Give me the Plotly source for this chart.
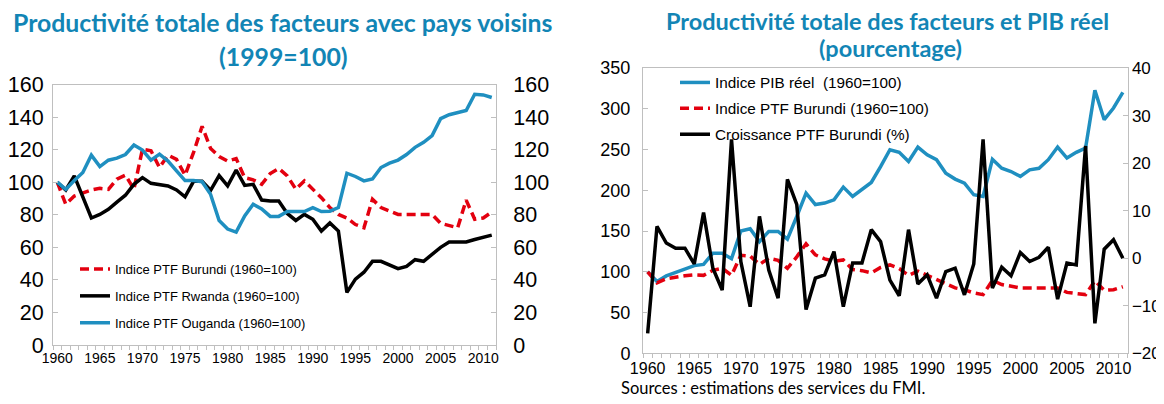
import plotly.graph_objs as go

W, H = 1164, 404
PAGE_MARGIN = 8  # default body margin of the html page

YEARS = list(range(1960, 2012))

# left chart : PTF indices (1960=100)
PTF_BURUNDI = [100, 86.4, 91.5, 93.6, 95.2, 96.2, 95.6, 101.8, 104.3, 95.7,
               120.3, 119.3, 109, 116.6, 114, 104.3, 118.3, 134.3, 120.7, 115.8,
               113, 114.5, 102.8, 101.4, 98.7, 105.3, 108.4, 103.9, 95.7, 100.8,
               95.7, 90.5, 84.4, 80.2, 78, 74, 72, 89.5, 84.4, 82.3,
               80.2, 80.2, 80.2, 80.2, 80.2, 74.7, 73.5, 72, 89, 77.2,
               78, 81.6]
PTF_RWANDA = [100, 95.2, 103.9, 91.5, 78, 80.2, 83.3, 87.8, 92, 98.7,
              102.8, 99.3, 98.3, 97.7, 95.2, 91, 100.5, 100.5, 95, 104,
              97.7, 107.5, 98, 98.7, 89, 88.4, 88.4, 80.8, 76.5, 80.2,
              77.2, 70, 75, 70, 32.3, 40.5, 44.7, 51.4, 51.4, 49.4,
              46.9, 48.3, 52.4, 51.4, 55.5, 60, 63.3, 63.3, 63.3, 64.8,
              66.2, 67.5]
PTF_OUGANDA = [100, 95.6, 101, 106, 116.6, 109.6, 113.5, 114.8, 117, 122.8,
               119.7, 113.5, 117.2, 113, 107, 101, 101, 100.3, 92.5, 76.5,
               71.2, 69.3, 79.3, 86.4, 83.6, 79, 79, 82, 82, 82,
               84.4, 82, 82.2, 84.4, 105.5, 103.5, 100.8, 102, 109, 111.7,
               113.6, 117, 121.4, 124.5, 128.6, 139, 141.4, 142.6, 144, 154,
               153.6, 152]

# right chart
PIB_REEL = [100, 88, 94.9, 99.4, 103, 107.6, 109, 122.8, 122.8, 116,
            150, 152.7, 137, 149.5, 149.5, 140, 167.8, 196.5, 182.5, 184.3,
            188.3, 203.9, 192.5, 200.6, 209.6, 229, 249.7, 246.5, 235.4, 253,
            243.6, 237.5, 221, 213.7, 208.8, 194.5, 192.5, 238, 227, 223,
            217, 225, 227, 237.5, 253, 239.5, 246.5, 251.8, 322.6, 286.6,
            300.9, 320]
CROISSANCE_PTF = [-15.8, 6.7, 3.2, 2.1, 2.1, -1.2, 9.6, -2.1, -6.7, 25,
                  -0.7, -10.2, 8.8, -2.5, -8.4, 16.6, 11.3, -10.8, -4.2, -3.5,
                  1.4, -10.2, -1, -1, 6, 3.5, -4.6, -7.9, 6, -5.4,
                  -3.5, -8.4, -2.8, -2.1, -7.7, -1.2, 25, -6.3, -1.9, -3.7,
                  1.2, -0.7, 0.2, 2.3, -8.6, -1, -1.4, 23.6, -13.7, 1.9,
                  3.9, 0]

LEFT_YTICKS = list(range(0, 161, 20))
RIGHT_Y1TICKS = list(range(0, 351, 50))
RIGHT_Y2TICKS = list(range(-20, 41, 10))
XTICKS = list(range(1960, 2011, 5))

BLUE = '#1f8fc0'
RED = '#e3000f'
BLACK = '#000000'
TITLE_BLUE = '#1285b5'
GRID = '#bfbfbf'
AX_FONT = 'Liberation Sans, Arial, sans-serif'
TITLE_FONT = 'Lato, Noto Sans, sans-serif'

# the page keeps its 8px body margin, so the figure is made to fit inside it
FIG_W = W - 2 * PAGE_MARGIN
FIG_H = H - 2 * PAGE_MARGIN


def px_x(p):
    # window pixel -> paper fraction
    return (p - PAGE_MARGIN) / FIG_W


def px_y(p):
    return 1 - (p - PAGE_MARGIN) / FIG_H


def x_axis(domain, size, anchor):
    return dict(domain=domain, range=[1959.5, 2011.5], tickvals=XTICKS,
                anchor=anchor, automargin=False,
                ticks='', showline=True, linecolor=GRID, linewidth=1,
                mirror=True, showgrid=False, zeroline=False,
                tickfont=dict(family=AX_FONT, size=size, color='black'),
                minor=dict(ticks='outside', tick0=1959.5, dtick=1,
                           ticklen=4, tickcolor=GRID, showgrid=False))


def y_axis(domain, rng, vals, size, anchor, side='left', overlay=None,
           standoff=4):
    d = dict(domain=domain, range=rng, tickvals=vals, side=side,
             anchor=anchor, automargin=False,
             ticks='inside', ticklen=5, tickcolor=GRID, showgrid=False,
             zeroline=False, showline=True, linecolor=GRID, linewidth=1,
             ticklabelstandoff=standoff,
             tickfont=dict(family=AX_FONT, size=size, color='black'))
    if overlay:
        d['overlaying'] = overlay
    return d


def plot():
    fig = go.Figure()

    # left chart
    fig.add_trace(go.Scatter(x=YEARS, y=PTF_BURUNDI, mode='lines',
                             name='Indice PTF Burundi (1960=100)',
                             line=dict(color=RED, width=3.5, dash='9px,5px'),
                             xaxis='x', yaxis='y', legend='legend',
                             legendgroup='a'))
    fig.add_trace(go.Scatter(x=YEARS, y=PTF_RWANDA, mode='lines',
                             name='Indice PTF Rwanda (1960=100)',
                             line=dict(color=BLACK, width=3.5),
                             xaxis='x', yaxis='y', legend='legend',
                             legendgroup='b'))
    fig.add_trace(go.Scatter(x=YEARS, y=PTF_OUGANDA, mode='lines',
                             name='Indice PTF Ouganda (1960=100)',
                             line=dict(color=BLUE, width=3.5),
                             xaxis='x', yaxis='y2', legend='legend',
                             legendgroup='c'))

    # right chart
    fig.add_trace(go.Scatter(x=YEARS, y=PIB_REEL, mode='lines',
                             name='Indice PIB réel  (1960=100)',
                             line=dict(color=BLUE, width=3.5),
                             xaxis='x2', yaxis='y3', legend='legend2',
                             legendgroup='d'))
    fig.add_trace(go.Scatter(x=YEARS, y=PTF_BURUNDI, mode='lines',
                             name='Indice PTF Burundi (1960=100)',
                             line=dict(color=RED, width=3.5, dash='9px,5px'),
                             xaxis='x2', yaxis='y3', legend='legend2',
                             legendgroup='e'))
    fig.add_trace(go.Scatter(x=YEARS, y=CROISSANCE_PTF, mode='lines',
                             name='Croissance PTF Burundi (%)',
                             line=dict(color=BLACK, width=3.5),
                             xaxis='x2', yaxis='y4', legend='legend2',
                             legendgroup='f'))

    left_dom_x = [px_x(53), px_x(496)]
    left_dom_y = [px_y(345), px_y(84.5)]
    right_dom_x = [px_x(643), px_x(1127.5)]
    right_dom_y = [px_y(353.3), px_y(68)]

    fig.update_layout(
        width=FIG_W, height=FIG_H,
        margin=dict(l=0, r=0, t=0, b=0),
        paper_bgcolor='white', plot_bgcolor='white',
        xaxis=x_axis(left_dom_x, 14, 'y'),
        yaxis=y_axis(left_dom_y, [0, 160], LEFT_YTICKS, 21.5, 'x'),
        yaxis2=y_axis(left_dom_y, [0, 160], LEFT_YTICKS, 21.5, 'x',
                      side='right', overlay='y', standoff=12),
        xaxis2=x_axis(right_dom_x, 16, 'y3'),
        yaxis3=y_axis(right_dom_y, [0, 350], RIGHT_Y1TICKS, 18, 'x2',
                      standoff=8),
        yaxis4=y_axis(right_dom_y, [-20, 40], RIGHT_Y2TICKS, 17, 'x2',
                      side='right', overlay='y3', standoff=0),
        legend=dict(x=px_x(75), y=px_y(254), xanchor='left', yanchor='top',
                    bgcolor='rgba(0,0,0,0)', traceorder='grouped',
                    tracegroupgap=7,
                    font=dict(family=AX_FONT, size=13, color='black')),
        legend2=dict(x=px_x(675), y=px_y(66), xanchor='left', yanchor='top',
                     bgcolor='rgba(0,0,0,0)', traceorder='grouped',
                     tracegroupgap=3,
                     font=dict(family=AX_FONT, size=15.3, color='black')),
        showlegend=True,
    )

    titles = [
        ('<b>Productivité totale des facteurs avec pays voisins</b>', 283, 23, 24.8),
        ('<b>(1999=100)</b>', 283, 56, 24.8),
        ('<b>Productivité totale des facteurs et PIB réel</b>', 887, 21, 23.5),
        ('<b>(pourcentage)</b>', 890, 48, 23.5),
    ]
    for text, cx, cy, size in titles:
        fig.add_annotation(text=text, x=px_x(cx), y=px_y(cy), xref='paper',
                           yref='paper', xanchor='center', yanchor='middle',
                           showarrow=False,
                           font=dict(family=TITLE_FONT, size=size,
                                     color=TITLE_BLUE))

    fig.add_annotation(text='Sources : estimations des services du FMI.',
                       x=px_x(619), y=0, xref='paper', yref='paper',
                       xanchor='left', yanchor='bottom', yshift=-4,
                       showarrow=False,
                       font=dict(family=TITLE_FONT, size=16.5, color='black'))

    fig.write_html("out.html")


if __name__ == '__main__':
    plot()
